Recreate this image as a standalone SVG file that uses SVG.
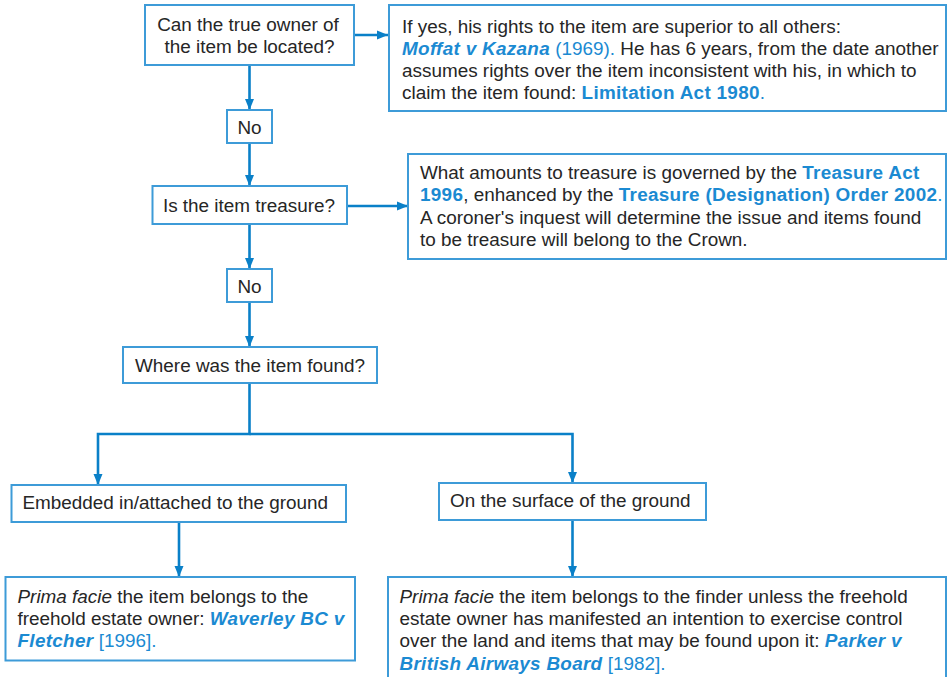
<svg xmlns="http://www.w3.org/2000/svg" width="947" height="677" viewBox="0 0 947 677">
<defs>
<marker id="ah" markerUnits="userSpaceOnUse" markerWidth="12" markerHeight="10" refX="11" refY="5" orient="auto">
<path d="M0,0.5 L11,5 L0,9.5 Z" fill="#0a80c8"/>
</marker>
<style>
.box{fill:#ffffff;stroke:#3d9bd8;stroke-width:2}
.con{fill:none;stroke:#0a80c8;stroke-width:2.6;marker-end:url(#ah)}
text{font-family:"Liberation Sans",Arial,sans-serif;font-size:18.9px;fill:#262626}
.c{text-anchor:middle}
.b{font-weight:bold;fill:#1b8ad2;letter-spacing:0.3px}
.bi{font-weight:bold;font-style:italic;fill:#1b8ad2;letter-spacing:0.3px}
.bl{fill:#1b8ad2}
.i{font-style:italic}
</style>
</defs>
<rect width="947" height="677" fill="#ffffff"/>
<g id="connectors">
<path class="con" d="M249.5,65 V110"/>
<path class="con" d="M354,35 H388"/>
<path class="con" d="M249.5,143 V186"/>
<path class="con" d="M347,206 H408"/>
<path class="con" d="M249.5,224 V269"/>
<path class="con" d="M249.5,302 V347"/>
<path class="con" d="M249.5,383 V434 H98 V485"/>
<path class="con" d="M249.5,434 H572.5 V483"/>
<path class="con" d="M179,522 V577"/>
<path class="con" d="M572.5,520 V577"/>
</g>
<g id="q-owner">
<rect class="box" x="145" y="5" width="209" height="60"/>
<text class="c" x="248" y="30.5">Can the true owner of</text>
<text class="c" x="249.5" y="52.5">the item be located?</text>
</g>
<g id="owner-rights">
<rect class="box" x="389" y="5" width="557" height="106"/>
<text x="402" y="32.5">If yes, his rights to the item are superior to all others:</text>
<text x="402" y="54.5"><tspan class="bi">Moffat v Kazana</tspan><tspan class="bl"> (1969).</tspan> He has 6 years, from the date another</text>
<text x="402" y="76.5">assumes rights over the item inconsistent with his, in which to</text>
<text x="402" y="98.5">claim the item found: <tspan class="b">Limitation Act 1980</tspan><tspan class="bl">.</tspan></text>
</g>
<g id="no-1">
<rect class="box" x="227" y="110" width="45" height="33"/>
<text class="c" x="249.5" y="133.5">No</text>
</g>
<g id="q-treasure">
<rect class="box" x="152.5" y="186" width="194.5" height="38"/>
<text class="c" x="249" y="211.5">Is the item treasure?</text>
</g>
<g id="treasure-info">
<rect class="box" x="408" y="154" width="538" height="105"/>
<text x="420" y="178.5">What amounts to treasure is governed by the <tspan class="b">Treasure Act</tspan></text>
<text x="420" y="201"><tspan class="b">1996</tspan>, enhanced by the <tspan class="b">Treasure (Designation) Order 2002</tspan><tspan class="bl">.</tspan></text>
<text x="420" y="223.5">A coroner's inquest will determine the issue and items found</text>
<text x="420" y="246">to be treasure will belong to the Crown.</text>
</g>
<g id="no-2">
<rect class="box" x="227" y="269" width="45" height="33"/>
<text class="c" x="249.5" y="292.5">No</text>
</g>
<g id="q-where">
<rect class="box" x="123" y="347" width="254" height="36"/>
<text class="c" x="250" y="371.5">Where was the item found?</text>
</g>
<g id="embedded">
<rect class="box" x="11.5" y="485" width="334.5" height="37"/>
<text x="22.5" y="509">Embedded in/attached to the ground</text>
</g>
<g id="surface">
<rect class="box" x="439" y="483" width="267" height="37"/>
<text x="450" y="506.5">On the surface of the ground</text>
</g>
<g id="embedded-result">
<rect class="box" x="5.5" y="577" width="349.5" height="83.5"/>
<text x="17.5" y="603"><tspan class="i">Prima facie</tspan> the item belongs to the</text>
<text x="17.5" y="625">freehold estate owner: <tspan class="bi">Waverley BC v</tspan></text>
<text x="17.5" y="647"><tspan class="bi">Fletcher</tspan><tspan class="bl"> [1996].</tspan></text>
</g>
<g id="surface-result">
<rect class="box" x="388" y="577" width="558" height="110"/>
<text x="399.5" y="602.5"><tspan class="i">Prima facie</tspan> the item belongs to the finder unless the freehold</text>
<text x="399.5" y="625">estate owner has manifested an intention to exercise control</text>
<text x="399.5" y="647">over the land and items that may be found upon it: <tspan class="bi">Parker v</tspan></text>
<text x="399.5" y="669.5"><tspan class="bi">British Airways Board</tspan><tspan class="bl"> [1982].</tspan></text>
</g>
</svg>
